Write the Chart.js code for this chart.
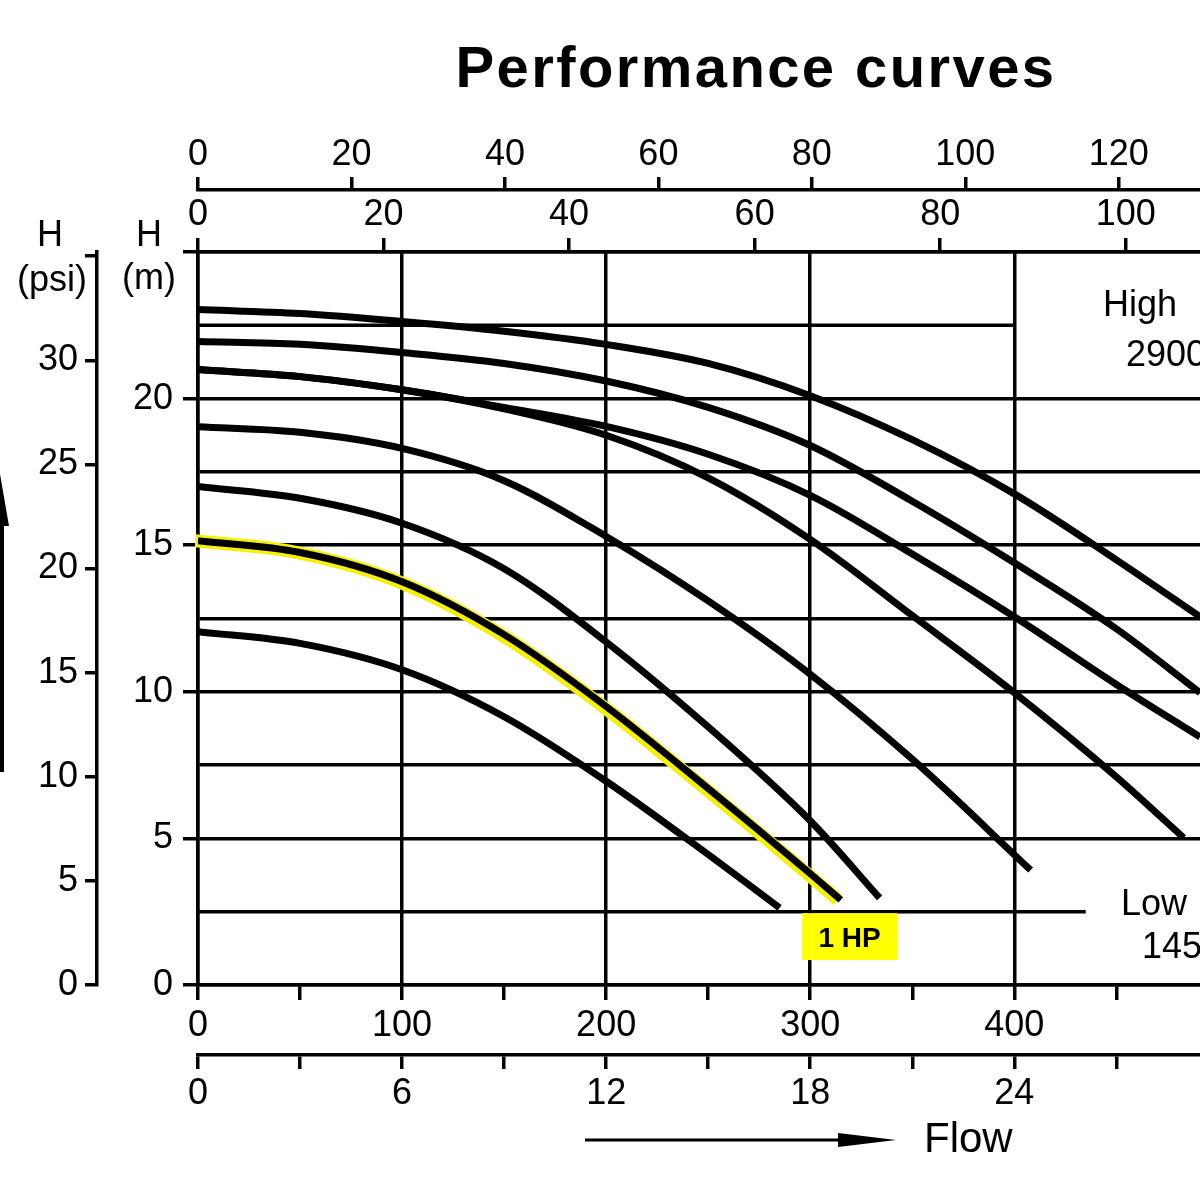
<!DOCTYPE html>
<html>
<head>
<meta charset="utf-8">
<title>Performance curves</title>
<script src="https://cdn.jsdelivr.net/npm/chart.js@4.4.1/dist/chart.umd.min.js"></script>
<style>
  html, body { margin: 0; padding: 0; background: #fff; }
  canvas { display: block; }
</style>
</head>
<body>
<canvas id="myChart" width="1200" height="1200"></canvas>
<script>
// flow in l/min, head in m
const c1Flow = [0, 50, 100, 150, 200, 250, 300, 350, 400, 450, 491];
const c1Head = [23.04, 22.9, 22.63, 22.3, 21.85, 21.2, 20.1, 18.6, 16.75, 14.5, 12.56];

const c2Flow = [0, 50, 100, 150, 200, 250, 300, 350, 400, 450, 491];
const c2Head = [21.95, 21.85, 21.57, 21.2, 20.6, 19.7, 18.4, 16.5, 14.4, 12.15, 9.97];

const c3Flow = [0, 50, 100, 150, 200, 250, 300, 350, 400, 450, 491];
const c3Head = [20.99, 20.75, 20.3, 19.7, 19.05, 18.1, 16.7, 14.7, 12.56, 10.25, 8.46];

const c4Flow = [0, 50, 100, 150, 200, 250, 300, 350, 400, 450, 483];
const c4Head = [20.99, 20.75, 20.3, 19.65, 18.75, 17.3, 15.2, 12.6, 9.97, 7.1, 5.02];

const c5Flow = [0, 50, 100, 150, 200, 250, 300, 350, 408];
const c5Head = [19.04, 18.85, 18.3, 17.2, 15.3, 13.1, 10.6, 7.7, 3.92];

const c6Flow = [0, 50, 100, 150, 200, 250, 300, 334];
const c6Head = [17.0, 16.6, 15.75, 14.2, 11.7, 8.8, 5.6, 2.97];

// the 1 HP curve (highlighted)
const hp1Flow = [0, 50, 100, 150, 200, 250, 300, 315];
const hp1Head = [15.15, 14.75, 13.75, 11.95, 9.5, 6.7, 3.8, 2.9];

const c8Flow = [0, 50, 100, 150, 200, 250, 285];
const c8Head = [12.05, 11.65, 10.75, 9.15, 6.95, 4.45, 2.63];

// short grid lines that stop before the right edge
const stubHighFlow = [0, 400];
const stubHighHead = [22.5, 22.5];
const stubLowFlow = [0, 435];
const stubLowHead = [2.5, 2.5];

// axis labels
const lpmLabels = [0, 100, 200, 300, 400, 500];
const m3hLabels = [0, 6, 12, 18, 24, 30];
const impLabels = [0, 20, 40, 60, 80, 100];
const usLabels = [0, 20, 40, 60, 80, 100, 120];
const mLabels = [0, 5, 10, 15, 20];
const psiLabels = [0, 5, 10, 15, 20, 25, 30];

const flowMax = 491;
const headMax = 25;

const fontFamily = "'Liberation Sans', Arial, sans-serif";
const tickFont = { family: fontFamily, size: 36 };
const gridW = 3.5;

function pts(xs, ys) {
    return xs.map((x, i) => ({ x: x, y: ys[i] }));
}

function curve(xs, ys) {
    return {
        data: pts(xs, ys),
        showLine: true,
        borderColor: '#000',
        borderWidth: 7,
        pointRadius: 0,
        cubicInterpolationMode: 'monotone',
        fill: false,
        order: 0
    };
}

const datasets = [
    curve(c1Flow, c1Head),
    curve(c2Flow, c2Head),
    curve(c3Flow, c3Head),
    curve(c4Flow, c4Head),
    curve(c5Flow, c5Head),
    curve(c6Flow, c6Head),
    curve(hp1Flow, hp1Head),
    curve(c8Flow, c8Head),
    { data: pts(stubHighFlow, stubHighHead), showLine: true, borderColor: '#000', borderWidth: gridW, pointRadius: 0, order: 5 },
    { data: pts(stubLowFlow, stubLowHead), showLine: true, borderColor: '#000', borderWidth: gridW, pointRadius: 0, order: 5 },
    { data: pts(hp1Flow, hp1Head), showLine: true, borderColor: '#f5f200', borderWidth: 13, pointRadius: 0,
      cubicInterpolationMode: 'monotone', order: 10 }
];
const yellowIndex = datasets.length - 1;

function hasLabel(list) {
    return function (v) {
        return list.some(l => Math.abs(l - v) < 1e-6) ? String(v) : '';
    };
}

const decorations = {
    id: 'decorations',
    beforeDatasetDraw(chart, args) {
        if (args.index === yellowIndex) {
            chart.ctx.save();
            chart.ctx.translate(-3, 0);
        }
    },
    afterDatasetDraw(chart, args) {
        if (args.index === yellowIndex) chart.ctx.restore();
    },
    afterDraw(chart) {
        const ctx = chart.ctx;
        const xs = chart.scales.x;
        const ys = chart.scales.y;
        ctx.save();
        ctx.fillStyle = '#000';
        ctx.strokeStyle = '#000';

        // title
        ctx.font = 'bold 58px ' + fontFamily;
        ctx.textAlign = 'center';
        ctx.textBaseline = 'alphabetic';
        if ('letterSpacing' in ctx) ctx.letterSpacing = '2.4px';
        ctx.fillText('Performance curves', 756, 87);
        if ('letterSpacing' in ctx) ctx.letterSpacing = '0px';

        // axis names
        ctx.font = '36px ' + fontFamily;
        ctx.fillText('H', 50, 246);
        ctx.fillText('(psi)', 52, 291);
        ctx.fillText('H', 149, 246);
        ctx.fillText('(m)', 149, 289);

        // speed notes
        ctx.textAlign = 'left';
        ctx.fillText('High', 1103, 316);
        ctx.fillText('2900', 1126, 366);
        ctx.fillText('Low', 1121, 915);
        ctx.fillText('1450', 1142, 958);

        // 1 HP tag
        const bx0 = xs.getPixelForValue(296);
        const bx1 = xs.getPixelForValue(342.5);
        const by0 = ys.getPixelForValue(2.45);
        const by1 = ys.getPixelForValue(0.85);
        ctx.fillStyle = '#ffff00';
        ctx.fillRect(bx0, by0, bx1 - bx0, by1 - by0);
        ctx.fillStyle = '#000';
        ctx.font = 'bold 28px ' + fontFamily;
        ctx.textAlign = 'center';
        ctx.fillText('1 HP', (bx0 + bx1) / 2, by0 + 34);

        // flow arrow
        ctx.lineWidth = 3;
        ctx.beginPath();
        ctx.moveTo(585, 1140);
        ctx.lineTo(850, 1140);
        ctx.stroke();
        ctx.beginPath();
        ctx.moveTo(838, 1133);
        ctx.lineTo(896, 1140);
        ctx.lineTo(838, 1147);
        ctx.closePath();
        ctx.fill();
        ctx.font = '42px ' + fontFamily;
        ctx.textAlign = 'left';
        ctx.fillText('Flow', 924, 1152);

        // head arrow at the left edge
        ctx.beginPath();
        ctx.moveTo(0, 474);
        ctx.lineTo(9, 526);
        ctx.lineTo(-9, 526);
        ctx.closePath();
        ctx.fill();
        ctx.fillRect(0, 520, 4, 252);

        ctx.restore();
    }
};

const ctx = document.getElementById('myChart');

new Chart(ctx, {
    type: 'scatter',
    data: { datasets: datasets },
    plugins: [decorations],
    options: {
        responsive: false,
        animation: false,
        devicePixelRatio: 1,
        layout: { padding: { top: 120, bottom: 75, left: 0, right: 0 } },
        plugins: { legend: { display: false }, tooltip: { enabled: false } },
        scales: {
            x: {
                type: 'linear', position: 'bottom', min: 0, max: flowMax, weight: 1,
                ticks: { stepSize: 50, includeBounds: false, autoSkip: false, maxRotation: 0, minRotation: 0,
                         padding: 4, color: '#000', font: tickFont, callback: hasLabel(lpmLabels) },
                grid: {
                    color: c => (c.tick && Math.abs(c.tick.value % 100) < 1e-6) ? '#000' : 'rgba(0,0,0,0)',
                    tickColor: '#000', lineWidth: gridW, tickWidth: gridW, tickLength: 15
                },
                border: { color: '#000', width: gridW },
                afterFit: s => { s.height = 70; }
            },
            x2: {
                type: 'linear', position: 'bottom', min: 0, max: flowMax * 0.06, weight: 2,
                ticks: { stepSize: 3, includeBounds: false, autoSkip: false, maxRotation: 0, minRotation: 0,
                         padding: 3, color: '#000', font: tickFont, callback: hasLabel(m3hLabels) },
                grid: { drawOnChartArea: false, color: '#000', lineWidth: gridW, tickLength: 14 },
                border: { color: '#000', width: gridW },
                afterFit: s => { s.height = 70; }
            },
            x3: {
                type: 'linear', position: 'top', min: 0, max: flowMax / 4.546, weight: 1,
                ticks: { stepSize: 20, includeBounds: false, autoSkip: false, maxRotation: 0, minRotation: 0,
                         padding: 1, color: '#000', font: tickFont, callback: hasLabel(impLabels) },
                grid: { drawOnChartArea: false, color: '#000', lineWidth: gridW, tickLength: 14 },
                border: { color: '#000', width: gridW },
                afterFit: s => { s.height = 62; }
            },
            x4: {
                type: 'linear', position: 'top', min: 0, max: flowMax / 3.76, weight: 2,
                ticks: { stepSize: 20, includeBounds: false, autoSkip: false, maxRotation: 0, minRotation: 0,
                         padding: 0, color: '#000', font: tickFont, callback: hasLabel(usLabels) },
                grid: { drawOnChartArea: false, color: '#000', lineWidth: gridW, tickLength: 13 },
                border: { color: '#000', width: gridW },
                afterFit: s => { s.height = 70; }
            },
            y: {
                type: 'linear', position: 'left', min: 0, max: headMax, weight: 1,
                ticks: { stepSize: 2.5, autoSkip: false, padding: 10, color: '#000', font: tickFont,
                         callback: hasLabel(mLabels) },
                grid: {
                    color: c => {
                        if (!c.tick) return '#000';
                        const v = c.tick.value;
                        return (Math.abs(v - 22.5) < 1e-6 || Math.abs(v - 2.5) < 1e-6) ? 'rgba(0,0,0,0)' : '#000';
                    },
                    tickColor: c => (c.tick && Math.abs(c.tick.value % 5) < 1e-6) ? '#000' : 'rgba(0,0,0,0)',
                    lineWidth: gridW, tickWidth: gridW, tickLength: 15
                },
                border: { color: '#000', width: gridW },
                afterFit: s => { s.width = 101; }
            },
            y2: {
                type: 'linear', position: 'left', min: 0, max: headMax * 1.408, weight: 2,
                ticks: { stepSize: 5, includeBounds: false, autoSkip: false, padding: 7, color: '#000', font: tickFont,
                         callback: hasLabel(psiLabels) },
                grid: { drawOnChartArea: false, color: '#000', lineWidth: gridW, tickLength: 12 },
                border: { color: '#000', width: gridW },
                afterFit: s => { s.width = 97; }
            }
        }
    }
});
</script>
</body>
</html>
